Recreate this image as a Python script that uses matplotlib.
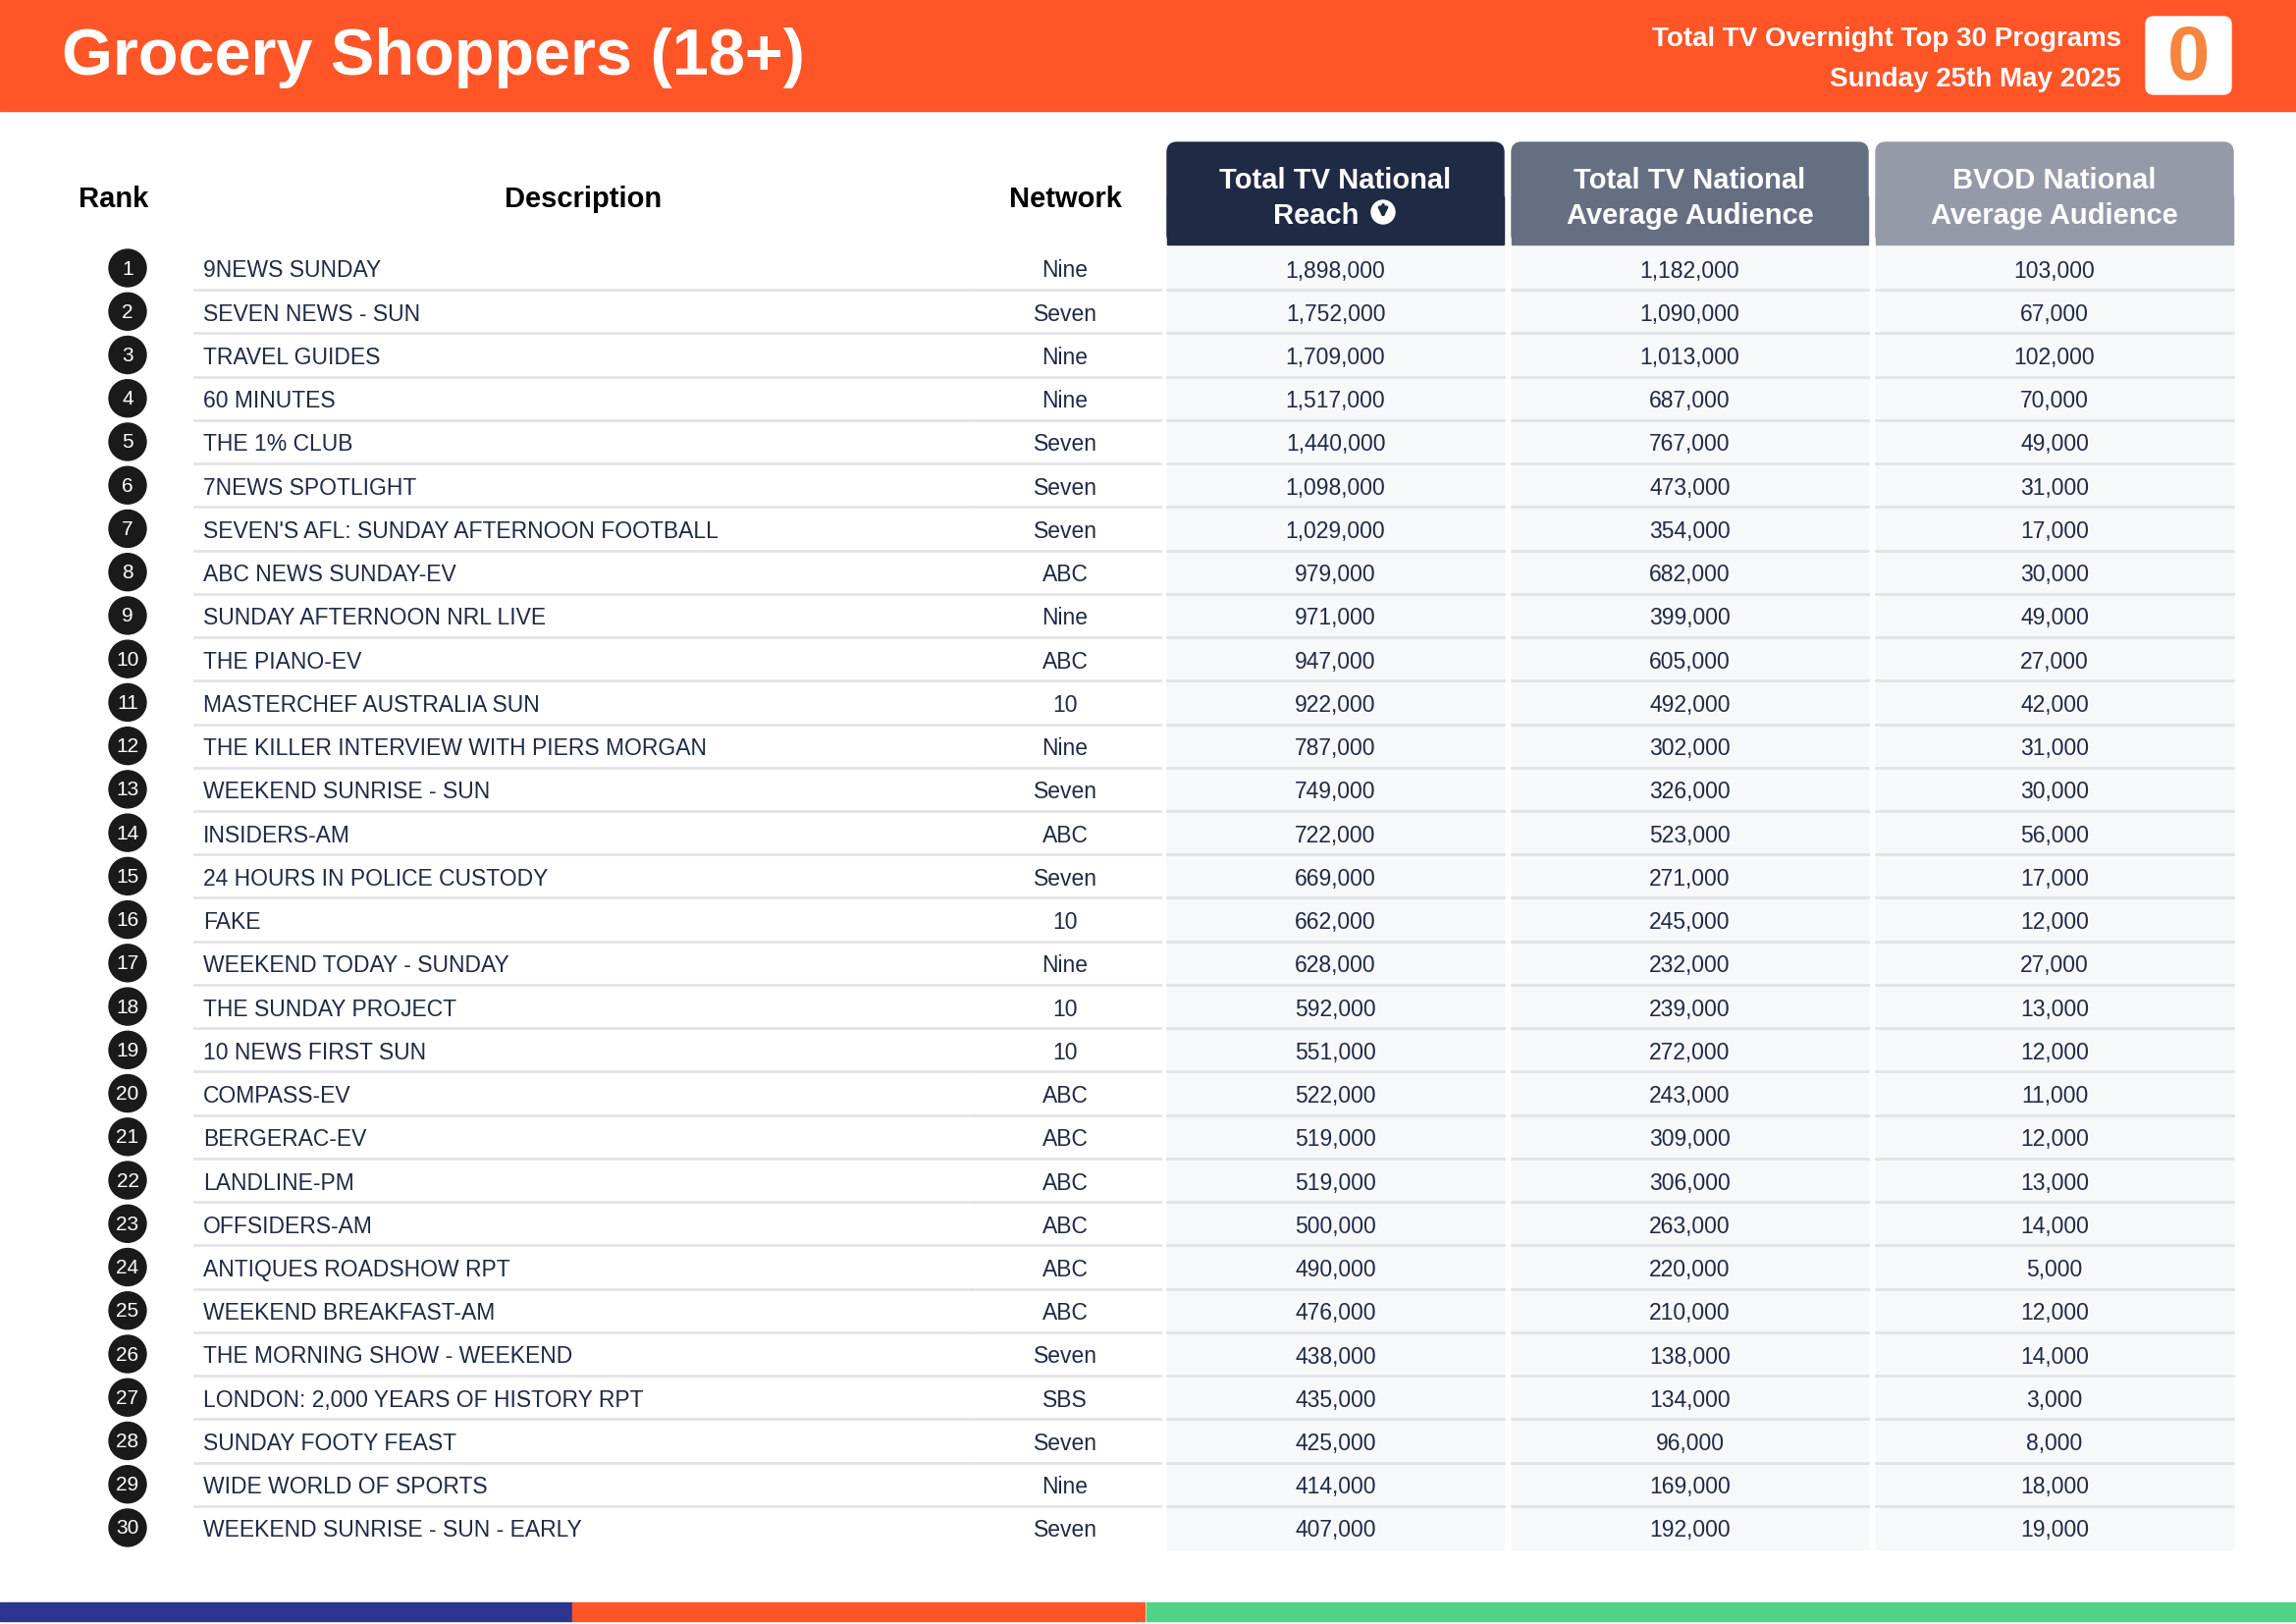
import matplotlib
matplotlib.use("Agg")
import matplotlib.pyplot as plt
from matplotlib.patches import Rectangle, FancyBboxPatch, Circle

descriptions = ["9NEWS SUNDAY","SEVEN NEWS - SUN","TRAVEL GUIDES","60 MINUTES","THE 1% CLUB",
 "7NEWS SPOTLIGHT","SEVEN'S AFL: SUNDAY AFTERNOON FOOTBALL","ABC NEWS SUNDAY-EV","SUNDAY AFTERNOON NRL LIVE",
 "THE PIANO-EV","MASTERCHEF AUSTRALIA SUN","THE KILLER INTERVIEW WITH PIERS MORGAN","WEEKEND SUNRISE - SUN",
 "INSIDERS-AM","24 HOURS IN POLICE CUSTODY","FAKE","WEEKEND TODAY - SUNDAY","THE SUNDAY PROJECT",
 "10 NEWS FIRST SUN","COMPASS-EV","BERGERAC-EV","LANDLINE-PM","OFFSIDERS-AM","ANTIQUES ROADSHOW RPT",
 "WEEKEND BREAKFAST-AM","THE MORNING SHOW - WEEKEND","LONDON: 2,000 YEARS OF HISTORY RPT",
 "SUNDAY FOOTY FEAST","WIDE WORLD OF SPORTS","WEEKEND SUNRISE - SUN - EARLY"]
networks = ["Nine","Seven","Nine","Nine","Seven","Seven","Seven","ABC","Nine","ABC","10","Nine","Seven",
 "ABC","Seven","10","Nine","10","10","ABC","ABC","ABC","ABC","ABC","ABC","Seven","SBS","Seven","Nine","Seven"]
reach = [1898000,1752000,1709000,1517000,1440000,1098000,1029000,979000,971000,947000,922000,787000,
 749000,722000,669000,662000,628000,592000,551000,522000,519000,519000,500000,490000,476000,438000,
 435000,425000,414000,407000]
avg_aud = [1182000,1090000,1013000,687000,767000,473000,354000,682000,399000,605000,492000,302000,
 326000,523000,271000,245000,232000,239000,272000,243000,309000,306000,263000,220000,210000,138000,
 134000,96000,169000,192000]
bvod = [103000,67000,102000,70000,49000,31000,17000,30000,49000,27000,42000,31000,30000,56000,17000,
 12000,27000,13000,12000,11000,12000,13000,14000,5000,12000,14000,3000,8000,18000,19000]
col_headers = [("Total TV National", "Reach"), ("Total TV National", "Average Audience"), ("BVOD National", "Average Audience")]

W, H = 2339, 1654
plt.rcParams["font.family"] = "Liberation Sans"
fig = plt.figure(figsize=(W/100, H/100), dpi=100)
ax = fig.add_axes([0, 0, 1, 1])
ax.set_xlim(0, W); ax.set_ylim(H, 0); ax.axis("off")

orange = "#ff5527"; navy = "#1f2a44"; txt = "#1f2a44"
ax.add_patch(Rectangle((0, 0), W, 113, color=orange))
ax.text(63, 59, "Grocery Shoppers (18+)", color="white", fontsize=48, fontweight="bold", va="center")
ax.text(2161, 40, "Total TV Overnight Top 30 Programs", color="white", fontsize=20, fontweight="bold", va="center", ha="right")
ax.text(2161, 81, "Sunday 25th May 2025", color="white", fontsize=20, fontweight="bold", va="center", ha="right")
ax.add_patch(FancyBboxPatch((2186, 17), 87, 79, boxstyle="round,pad=0,rounding_size=8", color="white"))
ax.text(2230, 60, "0", color="#f5853f", fontsize=56, fontweight="bold", ha="center", va="center", stretch="condensed")

for x, s in [(116, "Rank"), (594, "Description"), (1085, "Network")]:
    ax.text(x, 203, s, fontsize=21, fontweight="bold", ha="center", va="center", color="black")

cols = [(1189, 1532, "#1f2a44"), (1540, 1903, "#666f82"), (1911, 2275, "#959aa8")]
y0, dy = 273, 44.24
n = len(descriptions)
for k, ((x1, x2, c), (h1, h2)) in enumerate(zip(cols, col_headers)):
    ax.add_patch(FancyBboxPatch((x1, 145), x2-x1, 104, boxstyle="round,pad=0,rounding_size=10", color=c))
    ax.add_patch(Rectangle((x1, 200), x2-x1, 49, color=c))
    ax.add_patch(Rectangle((x1, 249), x2-x1, y0 + (n-0.5)*dy - 249, color="#f7f8fa", zorder=0))
    cx = (x1+x2)/2
    ax.text(cx, 184, h1, color="white", fontsize=21, fontweight="bold", ha="center", va="center")
    ax.text(cx - (20 if k == 0 else 0), 220, h2, color="white", fontsize=21, fontweight="bold", ha="center", va="center")
# arrow icon after Reach
ax.add_patch(Circle((1409, 216), 12, color="white"))
ax.annotate("", xy=(1409, 225), xytext=(1409, 206), arrowprops=dict(arrowstyle="-|>", color=navy, lw=2.5, mutation_scale=13))

segs = [(198, 985), (988, 1182), (1189, 1532), (1540, 1903), (1911, 2275)]
for i in range(n):
    y = y0 + i*dy
    ax.add_patch(Circle((130, y), 19, color="#1a1a1a"))
    ax.text(130, y+1, str(i+1), color="white", fontsize=15, ha="center", va="center")
    ax.text(207, y+3, descriptions[i], color=txt, fontsize=16.5, va="center")
    ax.text(1085, y+3, networks[i], color=txt, fontsize=16.5, ha="center", va="center")
    for (x1, x2, _), v in zip(cols, (reach[i], avg_aud[i], bvod[i])):
        ax.text((x1+x2)/2, y+3, f"{v:,}", color=txt, fontsize=16.5, ha="center", va="center")
    if i < n-1:
        for a, b in segs:
            ax.plot([a, b], [y+dy/2, y+dy/2], color="#e2e3e5", lw=2)

for k, c in enumerate(["#2b3590", orange, "#4fd387"]):
    ax.add_patch(Rectangle((k*583 if k < 2 else 1168, 1632), 583 if k < 2 else W-1168, 19, color=c))

fig.savefig("out.png", dpi=100)
